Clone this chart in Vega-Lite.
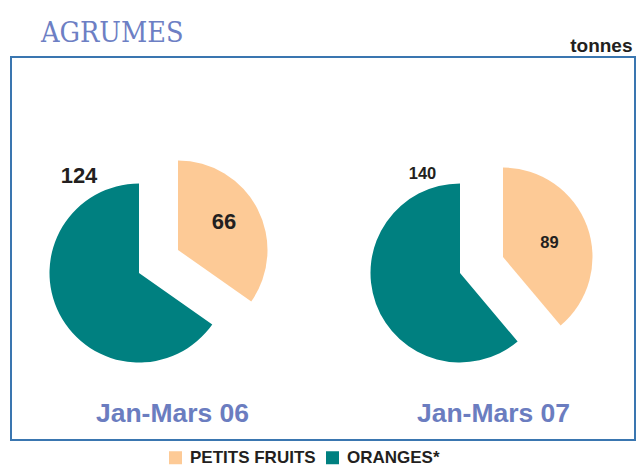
{
  "$schema": "https://vega.github.io/schema/vega-lite/v6.json",
  "width": 624,
  "height": 383,
  "autosize": {"type": "none"},
  "padding": {"left": 11, "top": 57, "right": 2, "bottom": 27},
  "background": "white",
  "title": {
    "text": "AGRUMES",
    "anchor": "start",
    "frame": "group",
    "dx": 30,
    "font": "DejaVu Serif Condensed, Liberation Serif",
    "fontSize": 28.5,
    "fontWeight": "normal",
    "color": "#6d7fc4",
    "baseline": "alphabetic",
    "offset": -34
  },
  "data": {
    "values": [
      {"period": "Jan-Mars 06", "fruit": "PETITS FRUITS", "value": 66},
      {"period": "Jan-Mars 06", "fruit": "ORANGES*", "value": 124},
      {"period": "Jan-Mars 07", "fruit": "PETITS FRUITS", "value": 89},
      {"period": "Jan-Mars 07", "fruit": "ORANGES*", "value": 140}
    ]
  },
  "transform": [
    {"stack": "value", "groupby": ["period"], "sort": [{"field": "fruit", "order": "descending"}], "offset": "normalize", "as": ["t0", "t1"]}
  ],
  "encoding": {
    "x": {
      "field": "period",
      "type": "nominal",
      "scale": {"type": "point", "domain": ["Jan-Mars 06", "Jan-Mars 07"], "range": [128, 449], "padding": 0},
      "axis": {
        "orient": "top",
        "labels": false,
        "ticks": false,
        "domain": false,
        "grid": false,
        "title": "tonnes",
        "titleX": 621,
        "titleY": -6,
        "titleAlign": "right",
        "titleAnchor": null,
        "titleBaseline": "alphabetic",
        "titleFontSize": 19,
        "titleFontWeight": "bold",
        "titleColor": "#231f20"
      }
    }
  },
  "layer": [
    {
      "transform": [{"filter": "datum.fruit === 'ORANGES*'"}],
      "mark": {"type": "arc", "radius": 89.5, "yOffset": 24.5},
      "encoding": {
        "theta": {"field": "t0", "type": "quantitative", "scale": {"domain": [0, 1]}},
        "theta2": {"field": "t1"},
        "color": {
          "field": "fruit",
          "type": "nominal",
          "scale": {"domain": ["PETITS FRUITS", "ORANGES*"], "range": ["#fdca96", "#008080"]},
          "legend": {
            "orient": "none",
            "direction": "horizontal",
            "legendX": 156,
            "legendY": 392,
            "title": null,
            "symbolType": "square",
            "symbolSize": 169,
            "symbolStrokeWidth": 0,
            "labelFontSize": 17,
            "labelFontWeight": "bold",
            "labelColor": "#231f20",
            "labelOffset": 6,
            "columnPadding": 8
          }
        }
      }
    },
    {
      "transform": [{"filter": "datum.fruit === 'PETITS FRUITS' && datum.period === 'Jan-Mars 06'"}],
      "mark": {"type": "arc", "radius": 89.5, "xOffset": 39, "yOffset": 1.5},
      "encoding": {
        "theta": {"field": "t0", "type": "quantitative", "scale": {"domain": [0, 1]}},
        "theta2": {"field": "t1"},
        "color": {"field": "fruit", "type": "nominal"}
      }
    },
    {
      "transform": [{"filter": "datum.fruit === 'PETITS FRUITS' && datum.period === 'Jan-Mars 07'"}],
      "mark": {"type": "arc", "radius": 89.5, "xOffset": 43, "yOffset": 8.5},
      "encoding": {
        "theta": {"field": "t0", "type": "quantitative", "scale": {"domain": [0, 1]}},
        "theta2": {"field": "t1"},
        "color": {"field": "fruit", "type": "nominal"}
      }
    },
    {
      "transform": [{"filter": "datum.fruit === 'ORANGES*' && datum.period === 'Jan-Mars 06'"}],
      "mark": {"type": "text", "fontSize": 22, "fontWeight": "bold", "color": "#231f20", "align": "center", "baseline": "middle", "dx": -60, "dy": -73},
      "encoding": {"text": {"field": "value", "type": "quantitative"}}
    },
    {
      "transform": [{"filter": "datum.fruit === 'PETITS FRUITS' && datum.period === 'Jan-Mars 06'"}],
      "mark": {"type": "text", "fontSize": 22, "fontWeight": "bold", "color": "#231f20", "align": "center", "baseline": "middle", "dx": 85, "dy": -27},
      "encoding": {"text": {"field": "value", "type": "quantitative"}}
    },
    {
      "transform": [{"filter": "datum.fruit === 'ORANGES*' && datum.period === 'Jan-Mars 07'"}],
      "mark": {"type": "text", "fontSize": 16.5, "fontWeight": "bold", "color": "#231f20", "align": "center", "baseline": "middle", "dx": -37.5, "dy": -75},
      "encoding": {"text": {"field": "value", "type": "quantitative"}}
    },
    {
      "transform": [{"filter": "datum.fruit === 'PETITS FRUITS' && datum.period === 'Jan-Mars 07'"}],
      "mark": {"type": "text", "fontSize": 16.5, "fontWeight": "bold", "color": "#231f20", "align": "center", "baseline": "middle", "dx": 89.5, "dy": -6},
      "encoding": {"text": {"field": "value", "type": "quantitative"}}
    },
    {
      "transform": [{"filter": "datum.fruit === 'ORANGES*'"}],
      "mark": {"type": "text", "fontSize": 26.5, "fontWeight": "bold", "color": "#6b7dc0", "align": "center", "baseline": "alphabetic", "dx": 33.5, "dy": 173.5},
      "encoding": {"text": {"field": "period", "type": "nominal"}}
    }
  ],
  "config": {
    "font": "Liberation Sans",
    "view": {"stroke": "#3a76b0", "strokeWidth": 2},
    "arc": {"stroke": null},
    "legend": {"padding": 0}
  }
}
